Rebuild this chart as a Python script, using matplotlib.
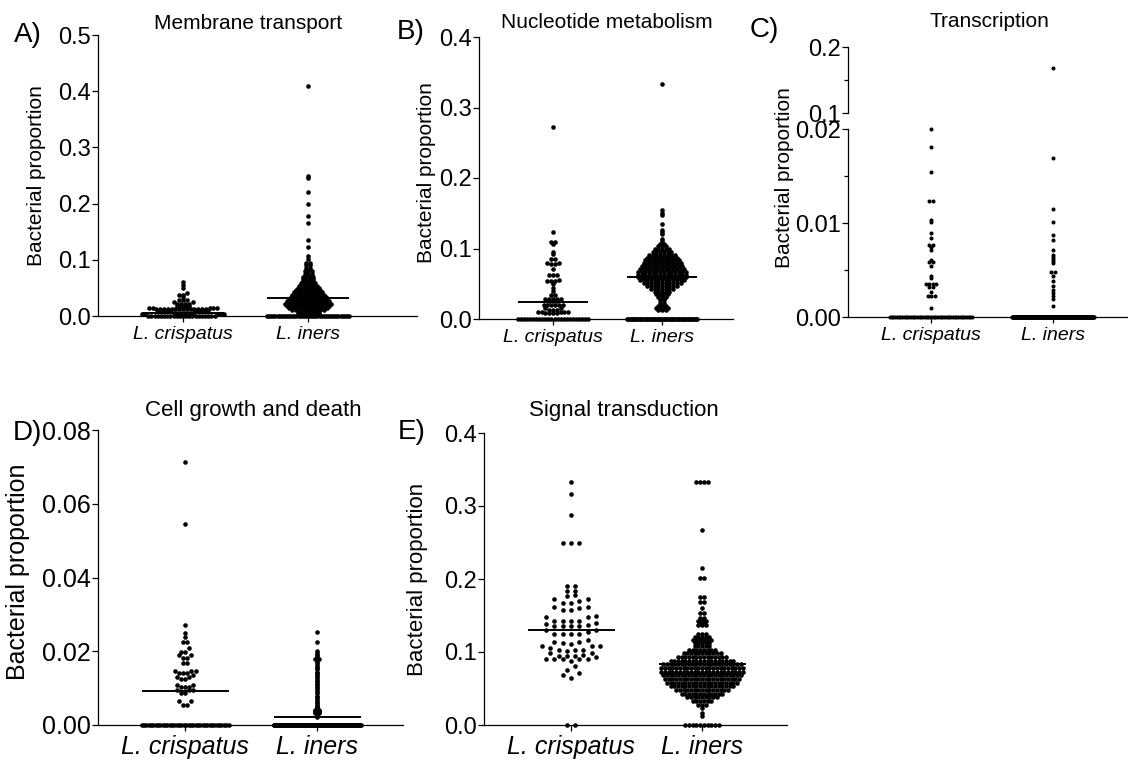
import numpy as np
import matplotlib
matplotlib.use("Agg")
import matplotlib.pyplot as plt

plt.rcParams['font.family'] = ['Liberation Sans', 'DejaVu Sans']

FIG_W, FIG_H, DPI = 1128, 762, 100

groups = ["L. crispatus", "L. iners"]
ylabel = "Bacterial proportion"

# ---------------- A) Membrane transport ----------------
membrane_title = "Membrane transport"
membrane_crisp_vals = [0.061, 0.056, 0.050, 0.041, 0.038, 0.033, 0.028, 0.025, 0.022,
                       0.018, 0.015, 0.012, 0.009, 0.006, 0.003, 0.0]
membrane_crisp_counts = [1, 1, 1, 1, 2, 1, 3, 2, 4, 4, 5, 14, 8, 6, 5, 22]
membrane_iners_vals = [0.409, 0.250, 0.246, 0.221, 0.199, 0.178, 0.165, 0.136, 0.123, 0.107,
                       0.102, 0.095, 0.090, 0.085, 0.080, 0.075, 0.070, 0.066, 0.062, 0.058,
                       0.054, 0.050, 0.046, 0.042, 0.038, 0.034, 0.030, 0.026, 0.022, 0.018,
                       0.014, 0.010, 0.006, 0.003, 0.0]
membrane_iners_counts = [1, 1, 1, 1, 1, 1, 1, 1, 1, 1,
                         1, 2, 2, 2, 3, 3, 4, 4, 4, 5,
                         6, 7, 8, 9, 10, 11, 12, 13, 14, 13,
                         12, 10, 7, 5, 40]
membrane_means = [0.0047, 0.0326]
membrane_ticks = [0.0, 0.1, 0.2, 0.3, 0.4, 0.5]
membrane_ticklabels = ["0.0", "0.1", "0.2", "0.3", "0.4", "0.5"]

# ---------------- B) Nucleotide metabolism ----------------
nucleotide_title = "Nucleotide metabolism"
nucleotide_crisp_vals = [0.273, 0.123, 0.109, 0.106, 0.095, 0.092, 0.085, 0.080, 0.078, 0.071,
                         0.063, 0.055, 0.054, 0.050, 0.044, 0.040, 0.034, 0.028, 0.025, 0.020,
                         0.015, 0.013, 0.010, 0.008, 0.0]
nucleotide_crisp_counts = [1, 1, 2, 1, 1, 1, 2, 2, 2, 1,
                           3, 1, 3, 1, 1, 1, 2, 5, 3, 6,
                           2, 3, 5, 4, 24]
nucleotide_iners_vals = [0.333, 0.155, 0.151, 0.148, 0.135, 0.126, 0.123, 0.120, 0.114, 0.111,
                         0.107, 0.103, 0.099, 0.095, 0.091, 0.087, 0.083, 0.079, 0.075, 0.071,
                         0.067, 0.063, 0.059, 0.055, 0.051, 0.047, 0.043, 0.039, 0.035, 0.031,
                         0.027, 0.023, 0.019, 0.016, 0.013, 0.0]
nucleotide_iners_counts = [1, 1, 1, 1, 1, 1, 1, 1, 1, 1,
                           2, 3, 5, 6, 8, 9, 10, 11, 12, 13,
                           14, 14, 14, 13, 11, 9, 7, 5, 4, 3,
                           2, 2, 3, 4, 3, 60]
nucleotide_means = [0.0246, 0.0600]
nucleotide_ticks = [0.0, 0.1, 0.2, 0.3, 0.4]
nucleotide_ticklabels = ["0.0", "0.1", "0.2", "0.3", "0.4"]

# ---------------- C) Transcription (broken axis) ----------------
transcription_title = "Transcription"
transcription_crisp_vals = [0.0200, 0.0181, 0.0154, 0.0123, 0.0103, 0.0101, 0.0089, 0.0084,
                            0.0077, 0.0074, 0.0071, 0.0061, 0.0058, 0.0054, 0.0044, 0.0041,
                            0.0035, 0.0032, 0.0027, 0.0022, 0.0010, 0.0]
transcription_crisp_counts = [1, 1, 1, 2, 1, 1, 1, 1,
                              2, 1, 1, 1, 2, 1, 1, 1,
                              4, 2, 1, 3, 1, 48]
transcription_iners_vals = [0.1677, 0.0169, 0.0115, 0.0101, 0.0087, 0.0082, 0.0071, 0.0066,
                            0.0064, 0.0062, 0.0060, 0.0057, 0.0048, 0.0044, 0.0038, 0.0033,
                            0.0029, 0.0026, 0.0022, 0.0019, 0.0012, 0.0]
transcription_iners_counts = [1, 1, 1, 1, 1, 1, 1, 1,
                              1, 1, 1, 1, 2, 1, 1, 1,
                              1, 1, 1, 1, 1, 250]
transcription_means = [0.0, 0.0]
transcription_low_ticks = [0.0, 0.01, 0.02]
transcription_low_ticklabels = ["0.00", "0.01", "0.02"]
transcription_high_ticks = [0.1, 0.2]
transcription_high_ticklabels = ["0.1", "0.2"]

# ---------------- D) Cell growth and death ----------------
cellgrowth_title = "Cell growth and death"
cellgrowth_crisp_vals = [0.0714, 0.0545, 0.0272, 0.0250, 0.0238, 0.0224, 0.0208, 0.0199,
                         0.0190, 0.0181, 0.0167, 0.0146, 0.0140, 0.0136, 0.0131, 0.0126,
                         0.0109, 0.0103, 0.0095, 0.0088, 0.0064, 0.0055, 0.0]
cellgrowth_crisp_counts = [1, 1, 1, 1, 1, 2, 1, 2,
                           2, 2, 2, 3, 3, 1, 2, 2,
                           2, 3, 3, 2, 2, 2, 38]
cellgrowth_iners_vals = [0.0253, 0.0224, 0.0200, 0.0196, 0.0189, 0.0186, 0.0180, 0.0178,
                         0.0171, 0.0167, 0.0164, 0.0158, 0.0155, 0.0151, 0.0145, 0.0142,
                         0.0139, 0.0133, 0.0129, 0.0125, 0.0120, 0.0117, 0.0111, 0.0108,
                         0.0103, 0.0099, 0.0094, 0.0090, 0.0086, 0.0080, 0.0077, 0.0072,
                         0.0068, 0.0063, 0.0060, 0.0055, 0.0052, 0.0048, 0.0045, 0.0041,
                         0.0038, 0.0035, 0.0032, 0.0029, 0.0026, 0.0023, 0.0]
cellgrowth_iners_counts = [1] * 39 + [2, 2, 2, 2, 1, 1, 1, 230]
cellgrowth_means = [0.0093, 0.00225]
cellgrowth_ticks = [0.0, 0.02, 0.04, 0.06, 0.08]
cellgrowth_ticklabels = ["0.00", "0.02", "0.04", "0.06", "0.08"]

# ---------------- E) Signal transduction ----------------
signal_title = "Signal transduction"
signal_crisp_vals = [0.333, 0.317, 0.287, 0.250, 0.191, 0.184, 0.178, 0.177, 0.172, 0.170,
                     0.167, 0.162, 0.160, 0.158, 0.149, 0.148, 0.143, 0.140, 0.138, 0.137,
                     0.136, 0.135, 0.130, 0.128, 0.125, 0.116, 0.114, 0.113, 0.111, 0.108,
                     0.105, 0.103, 0.102, 0.099, 0.098, 0.096, 0.095, 0.094, 0.093, 0.090,
                     0.087, 0.081, 0.076, 0.071, 0.069, 0.065, 0.0]
signal_crisp_counts = [1, 1, 1, 3, 2, 2, 1, 1, 2, 1,
                       2, 2, 1, 2, 1, 2, 4, 1, 1, 1,
                       3, 1, 2, 1, 4, 1, 2, 1, 1, 3,
                       1, 3, 1, 1, 1, 1, 1, 2, 1, 5,
                       1, 1, 1, 1, 1, 1, 2]
signal_iners_vals = [0.333, 0.267, 0.215, 0.201, 0.175, 0.168, 0.160, 0.154, 0.147, 0.143,
                     0.140, 0.137, 0.125, 0.121, 0.117, 0.113, 0.108, 0.103, 0.098, 0.093,
                     0.088, 0.083, 0.078, 0.073, 0.068, 0.063, 0.058, 0.053, 0.048, 0.043,
                     0.038, 0.033, 0.028, 0.023, 0.017, 0.012, 0.0]
signal_iners_counts = [4, 1, 1, 2, 2, 2, 1, 2, 2, 3,
                       2, 3, 3, 5, 6, 5, 5, 8, 11, 14,
                       18, 22, 23, 23, 22, 21, 20, 18, 15, 12,
                       9, 6, 3, 1, 1, 1, 10]
signal_means = [0.1295, 0.0831]
signal_ticks = [0.0, 0.1, 0.2, 0.3, 0.4]
signal_ticklabels = ["0.0", "0.1", "0.2", "0.3", "0.4"]


def expand(vals, counts):
    return np.repeat(np.asarray(vals, float), counts)


fig = plt.figure(figsize=(FIG_W / DPI, FIG_H / DPI), dpi=DPI)


def px_axes(left, top, right, bottom):
    return fig.add_axes([left / FIG_W, 1 - bottom / FIG_H,
                         (right - left) / FIG_W, (bottom - top) / FIG_H])


def fig_text(x, y, s, **kw):
    fig.text(x / FIG_W, 1 - y / FIG_H, s, **kw)


def swarm_offsets(values, px_per_unit, spacing, width, tol):
    """Row-based dot layout in pixels: values within `tol` pixels share a row."""
    v = np.asarray(values, float)
    order = np.argsort(v, kind="stable")
    yp = v[order] * px_per_unit
    off = np.zeros(v.size)
    i = 0
    while i < v.size:
        j = i + 1
        while j < v.size and yp[j] - yp[i] < tol:
            j += 1
        n = j - i
        step = spacing if n < 2 else min(spacing, width / (n - 1))
        pos = (np.arange(n) - (n - 1) / 2) * step
        # spread the row's points from the middle outwards
        centre_first = np.argsort(np.abs(pos), kind="stable")
        off[order[i:j]] = pos[centre_first]
        i = j
    return off


def style_axis(ax, ticks, labels, tick_fs, minor=None, bottom=True):
    for s in ("top", "right"):
        ax.spines[s].set_visible(False)
    ax.spines["left"].set_linewidth(0.9)
    ax.spines["bottom"].set_linewidth(0.9)
    if not bottom:
        ax.spines["bottom"].set_visible(False)
    ax.set_yticks(ticks)
    ax.set_yticklabels(labels, fontsize=tick_fs)
    if minor is not None:
        ax.set_yticks(minor, minor=True)
    ax.tick_params(axis="y", which="both", direction="out", length=4.3, width=0.9, pad=1,
                   colors="black")
    ax.tick_params(axis="y", which="minor", length=3.0)


def draw_panel(spec):
    left, right = spec["left"], spec["right"]
    c0, c1 = spec["cats"]
    cat_px = c1 - c0
    xlim = ((left - c0) / cat_px, (right - c0) / cat_px)
    ylo, yhi = spec["ylim"]
    top, bottom = spec["top"], spec["bottom"]
    ax = px_axes(left, top, right, bottom)
    ax.set_xlim(*xlim)
    ax.set_ylim(ylo, yhi)
    ppu = (bottom - top) / (yhi - ylo)
    style_axis(ax, spec["ticks"], spec["ticklabels"], spec["tick_fs"], spec.get("minor"))
    ax.set_xticks([0, 1])
    ax.set_xticklabels(groups, fontsize=spec["xt_fs"], style="italic")
    ax.tick_params(axis="x", direction="out", length=4.3, width=0.9, pad=spec["xpad"])

    upper = None
    if "upper" in spec:
        u = spec["upper"]
        upper = px_axes(left, u["top"], right, u["bottom"])
        upper.set_xlim(*xlim)
        upper.set_ylim(*u["ylim"])
        upper.patch.set_visible(False)
        style_axis(upper, u["ticks"], u["ticklabels"], spec["tick_fs"], u.get("minor"),
                   bottom=False)
        upper.set_xticks([])
        uppu = (u["bottom"] - u["top"]) / (u["ylim"][1] - u["ylim"][0])

    for k, (vals, counts) in enumerate(spec["data"]):
        values = expand(vals, counts)
        low = values <= yhi
        off = swarm_offsets(values[low] - ylo, ppu, spec["spacing"][k], spec["width"],
                            spec["tol"][k])
        ax.plot(k + off / cat_px, values[low], "o", ms=spec["ms"], mew=0, color="black",
                clip_on=False, zorder=3)
        if upper is not None and np.any(~low):
            hv = values[~low]
            uoff = swarm_offsets(hv, uppu, spec["spacing"][k], spec["width"], spec["tol"][k])
            upper.plot(k + uoff / cat_px, hv, "o", ms=spec["ms"], mew=0, color="black",
                       clip_on=False, zorder=3)
        half = spec["width"] / 2 / cat_px
        ax.plot([k - half, k + half], [spec["means"][k]] * 2, color="black", lw=1.4,
                solid_capstyle="butt", zorder=4, clip_on=False)

    # titles, panel letters and y-label
    fig_text(spec["title_xy"][0], spec["title_xy"][1], spec["title"], ha="center",
             va="baseline", fontsize=spec["title_fs"])
    fig_text(spec["letter_xy"][0], spec["letter_xy"][1], spec["letter"], ha="left",
             va="baseline", fontsize=20)
    fig_text(spec["ylab_xy"][0], spec["ylab_xy"][1], ylabel, ha="center", va="center",
             rotation=90, fontsize=spec["ylab_fs"])
    return ax


panels = [
    dict(letter="A)", title=membrane_title, left=98, right=417, top=35, bottom=316,
         cats=(183, 308), ylim=(0, 0.5), ticks=membrane_ticks, ticklabels=membrane_ticklabels,
         data=[(membrane_crisp_vals, membrane_crisp_counts),
               (membrane_iners_vals, membrane_iners_counts)],
         means=membrane_means, spacing=(3.8, 3.5), width=82, tol=(2.0, 1.2), ms=3.3,
         tick_fs=17, xt_fs=14, xpad=3, title_fs=15, ylab_fs=15,
         title_xy=(248, 29), letter_xy=(14, 42), ylab_xy=(37, 176)),
    dict(letter="B)", title=nucleotide_title, left=479, right=733, top=37, bottom=319,
         cats=(553, 662), ylim=(0, 0.4), ticks=nucleotide_ticks,
         ticklabels=nucleotide_ticklabels,
         data=[(nucleotide_crisp_vals, nucleotide_crisp_counts),
               (nucleotide_iners_vals, nucleotide_iners_counts)],
         means=nucleotide_means, spacing=(3.8, 3.7), width=70, tol=(1.6, 1.2), ms=3.3,
         tick_fs=17, xt_fs=14, xpad=3, title_fs=15, ylab_fs=15,
         title_xy=(607, 28), letter_xy=(397, 39), ylab_xy=(426, 173)),
    dict(letter="C)", title=transcription_title, left=848, right=1128, top=129, bottom=317,
         cats=(931, 1053), ylim=(0, 0.02), ticks=transcription_low_ticks,
         ticklabels=transcription_low_ticklabels, minor=[0.005, 0.015],
         upper=dict(top=47, bottom=113, ylim=(0.1, 0.2), ticks=transcription_high_ticks,
                    ticklabels=transcription_high_ticklabels, minor=[0.15]),
         data=[(transcription_crisp_vals, transcription_crisp_counts),
               (transcription_iners_vals, transcription_iners_counts)],
         means=transcription_means, spacing=(3.5, 3.5), width=82, tol=(1.2, 1.2), ms=2.9,
         tick_fs=17, xt_fs=14, xpad=3, title_fs=15, ylab_fs=15,
         title_xy=(989, 27), letter_xy=(750, 37), ylab_xy=(784, 178)),
    dict(letter="D)", title=cellgrowth_title, left=98, right=403, top=430, bottom=725,
         cats=(185, 317), ylim=(0, 0.08), ticks=cellgrowth_ticks,
         ticklabels=cellgrowth_ticklabels,
         data=[(cellgrowth_crisp_vals, cellgrowth_crisp_counts),
               (cellgrowth_iners_vals, cellgrowth_iners_counts)],
         means=cellgrowth_means, spacing=(4.2, 4.2), width=87, tol=(4.0, 0.8), ms=3.3,
         tick_fs=18, xt_fs=18, xpad=3, title_fs=16, ylab_fs=18,
         title_xy=(253, 416), letter_xy=(13, 440), ylab_xy=(18, 572)),
    dict(letter="E)", title=signal_title, left=484, right=787, top=433, bottom=725,
         cats=(571, 702), ylim=(0, 0.4), ticks=signal_ticks, ticklabels=signal_ticklabels,
         data=[(signal_crisp_vals, signal_crisp_counts),
               (signal_iners_vals, signal_iners_counts)],
         means=signal_means, spacing=(8.3, 3.7), width=87, tol=(4.5, 1.2), ms=3.3,
         tick_fs=17, xt_fs=18, xpad=3, title_fs=16, ylab_fs=16,
         title_xy=(624, 416), letter_xy=(398, 439), ylab_xy=(418, 579)),
]

for p in panels:
    draw_panel(p)

fig.savefig("out.png", dpi=DPI, facecolor="white")
